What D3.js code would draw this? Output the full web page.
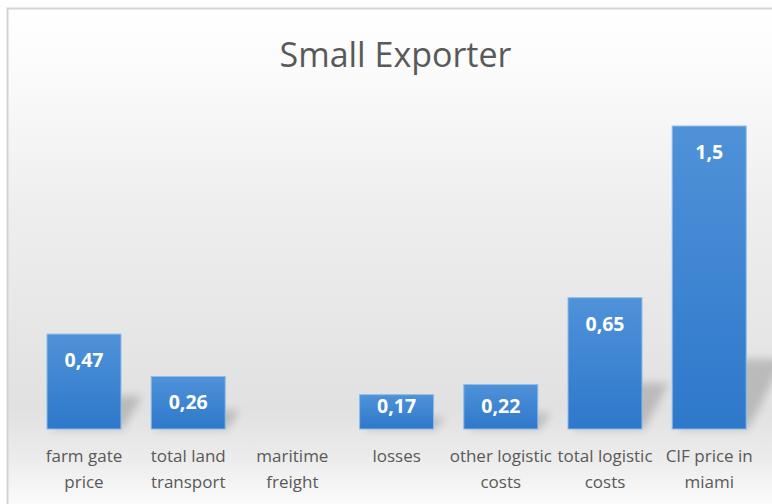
<!DOCTYPE html>
<html>
<head>
<meta charset="utf-8">
<script src="https://cdn.jsdelivr.net/npm/d3@7"></script>
<style>
  html, body { margin: 0; padding: 0; background: #ffffff; }
  svg { display: block; }
</style>
</head>
<body>
<svg id="chart" width="772" height="504"></svg>
<script>
// Cost build-up for a small exporter
const title = "Small Exporter";
const categories = [
  "farm gate price",
  "total land transport",
  "maritime freight",
  "losses",
  "other logistic costs",
  "total logistic costs",
  "CIF price in miami"
];
const categoryLines = [
  ["farm gate", "price"],
  ["total land", "transport"],
  ["maritime", "freight"],
  ["losses"],
  ["other logistic", "costs"],
  ["total logistic", "costs"],
  ["CIF price in", "miami"]
];
const values = [0.47, 0.26, null, 0.17, 0.22, 0.65, 1.5];
const valueLabels = ["0,47", "0,26", "", "0,17", "0,22", "0,65", "1,5"];

const W = 772, H = 504;
const svg = d3.select("#chart");
const defs = svg.append("defs");

// chart area background: white at top, grey around the baseline, fading out below
const bg = defs.append("linearGradient")
  .attr("id", "bgGrad").attr("gradientUnits", "userSpaceOnUse")
  .attr("x1", 0).attr("y1", 8).attr("x2", 0).attr("y2", 510);
[[0, "#ffffff"], [0.1, "#fcfcfc"], [0.4, "#eeeeee"], [0.8, "#e1e1e1"], [0.9, "#ececec"], [1, "#fdfdfd"]]
  .forEach(([o, c]) => bg.append("stop").attr("offset", o).attr("stop-color", c));

// bar fill
const barGrad = defs.append("linearGradient")
  .attr("id", "barGrad").attr("x1", 0).attr("y1", 0).attr("x2", 0).attr("y2", 1);
barGrad.append("stop").attr("offset", 0).attr("stop-color", "#4f92d8");
barGrad.append("stop").attr("offset", 1).attr("stop-color", "#2e78cb");

// soft shadow blur
defs.append("filter").attr("id", "shadowBlur")
  .attr("x", "-50%").attr("y", "-50%").attr("width", "200%").attr("height", "200%")
  .append("feGaussianBlur").attr("stdDeviation", 4);

svg.append("rect")
  .attr("x", 7).attr("y", 8).attr("width", W).attr("height", H)
  .attr("fill", "url(#bgGrad)");

// frame
svg.append("path")
  .attr("d", `M7.5,${H} V8.5 H${W}`)
  .attr("fill", "none").attr("stroke", "#d4d4d4").attr("stroke-width", 2);

svg.append("text")
  .attr("x", 395.5).attr("y", 67)
  .attr("text-anchor", "middle")
  .attr("font-family", "'Open Sans', sans-serif")
  .attr("font-size", 34)
  .attr("fill", "#595959")
  .text(title);

const x = d3.scaleBand()
  .domain(categories)
  .range([31.9, 761.3])
  .paddingInner(0.29)
  .paddingOuter(0.145);

const y = d3.scaleLinear().domain([0, 1.5]).range([429, 126]);

const data = categories.map((c, i) => ({ c, v: values[i], label: valueLabels[i], lines: categoryLines[i] }));
const shown = data.filter(d => d.v != null && d.v > 0);

// perspective shadows falling to the right of each bar
svg.append("g").selectAll("path")
  .data(shown)
  .join("path")
  .attr("d", d => {
    const x0 = x(d.c), x1 = x0 + x.bandwidth();
    const b = y(0), h = y(0) - y(d.v);
    const k = Math.min(h * 0.35, 70), s = k * 0.45 + 6;
    return `M${x0 + 4},${b} L${x1 + 2},${b} L${x1 + s},${b - k} L${x0 + s},${b - k} Z`;
  })
  .attr("fill", "#8a8a8a")
  .attr("opacity", 0.45)
  .attr("filter", "url(#shadowBlur)");

svg.append("g").selectAll("rect")
  .data(shown)
  .join("rect")
  .attr("x", d => x(d.c))
  .attr("y", d => y(d.v))
  .attr("width", x.bandwidth())
  .attr("height", d => y(0) - y(d.v))
  .attr("fill", "url(#barGrad)")
  .attr("stroke", "#8dbbe9")
  .attr("stroke-width", 1);

// value labels at the inside end, kept inside short bars
svg.append("g").selectAll("text")
  .data(shown)
  .join("text")
  .attr("x", d => x(d.c) + x.bandwidth() / 2)
  .attr("y", d => Math.min(y(d.v) + 33, y(0) - 16))
  .attr("text-anchor", "middle")
  .attr("font-family", "'Open Sans', sans-serif")
  .attr("font-weight", "bold")
  .attr("font-size", 19.5)
  .attr("fill", "#ffffff")
  .text(d => d.label);

// category labels under the bars
const lab = svg.append("g").selectAll("text")
  .data(data)
  .join("text")
  .attr("x", d => x(d.c) + x.bandwidth() / 2)
  .attr("y", 462)
  .attr("text-anchor", "middle")
  .attr("font-family", "'Open Sans', sans-serif")
  .attr("font-size", 17)
  .attr("fill", "#595959");
lab.selectAll("tspan")
  .data(d => d.lines.map(t => ({ t, cx: x(d.c) + x.bandwidth() / 2 })))
  .join("tspan")
  .attr("x", d => d.cx)
  .attr("dy", (d, i) => i === 0 ? 0 : 25.5)
  .text(d => d.t);
</script>
</body>
</html>
